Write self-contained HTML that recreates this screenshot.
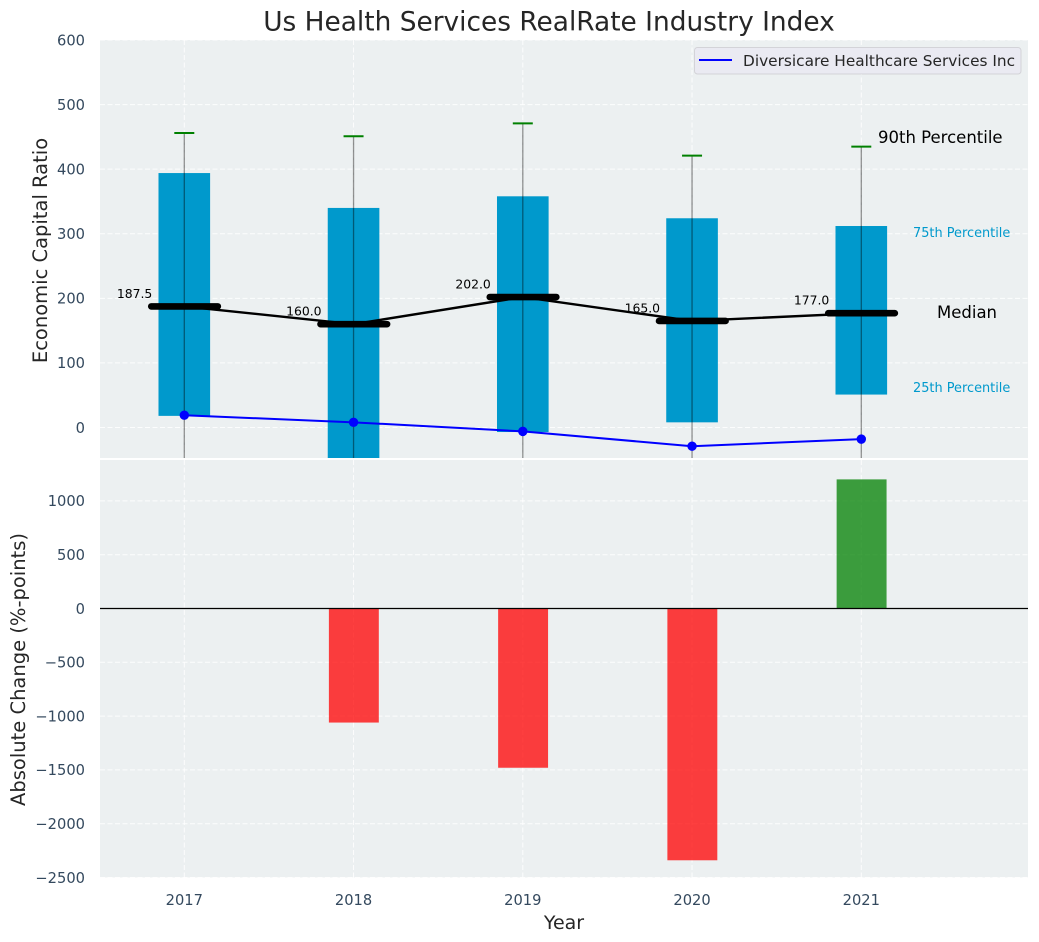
<!DOCTYPE html>
<html lang="en">
<head>
<meta charset="utf-8">
<title>Us Health Services RealRate Industry Index</title>
<style>
html,body{margin:0;padding:0;background:#fff;}
svg{display:block;}
text{font-family:"DejaVu Sans","Liberation Sans",sans-serif;}
</style>
</head>
<body>
<svg id="chart" xmlns="http://www.w3.org/2000/svg" width="1039" height="942" viewBox="0 0 1039 942">
<defs>
<clipPath id="clip-top"><rect x="100" y="40" width="928" height="418"/></clipPath>
<clipPath id="clip-bottom"><rect x="100" y="460" width="928" height="417.5"/></clipPath>
</defs>
<rect x="100" y="40" width="928" height="418" fill="#ecf0f1"/>
<rect x="100" y="460" width="928" height="417.5" fill="#ecf0f1"/>
<g id="top-grid"></g>
<g id="bottom-grid"></g>
<g id="top-marks" clip-path="url(#clip-top)"></g>
<g id="bottom-marks" clip-path="url(#clip-bottom)"></g>
<g id="labels"></g>
<text x="549" y="30.5" text-anchor="middle" font-size="26.4" fill="#262626">Us Health Services RealRate Industry Index</text>
<text x="564" y="929" text-anchor="middle" font-size="19" fill="#262626">Year</text>
<text transform="translate(47,250.5) rotate(-90)" text-anchor="middle" font-size="19.5" fill="#262626">Economic Capital Ratio</text>
<text transform="translate(25,669.5) rotate(-90)" text-anchor="middle" font-size="19.5" fill="#262626">Absolute Change (%-points)</text>
<text x="878" y="143" font-size="16.5" fill="#000">90th Percentile</text>
<text x="913" y="237" font-size="12.9" fill="#0099cc">75th Percentile</text>
<text x="937" y="318" font-size="16.5" fill="#000">Median</text>
<text x="913" y="392" font-size="12.9" fill="#0099cc">25th Percentile</text>
<g>
<rect x="694.5" y="47.5" width="326.5" height="26.5" rx="3" fill="#eaeaf2" stroke="#d3d3d8" stroke-width="1"/>
<line x1="699" y1="60" x2="732" y2="60" stroke="#0000ff" stroke-width="2"/>
<text x="743" y="66" font-size="15.35" fill="#262626">Diversicare Healthcare Services Inc</text>
</g>
</svg>
<script>
const years = [2017, 2018, 2019, 2020, 2021];
const p90 = [456, 451, 471, 421, 435];
const p75 = [394, 340, 358, 324, 312];
const median = [187.5, 160, 202, 165, 177];
const p25 = [18, -60, -7, 8, 51];
const p10 = [-120, -180, -130, -140, -100];
const company = [19, 8, -6, -29, -18];
const change = [0, -1060, -1480, -2340, 1200];
const topTicks = [600, 500, 400, 300, 200, 100, 0];
const bottomTicks = [1000, 500, 0, -500, -1000, -1500, -2000, -2500];

const NS = 'http://www.w3.org/2000/svg';
const xScale = v => 184.3 + (v - 2017) * 169.25;
const topY = v => 427.5 - v * 0.6458;
const bottomY = v => 608.5 - v * 0.1076;
const BOX_W = 0.305;
const CHANGE_W = 0.295;

function make(parent, tag, attrs, txt) {
  const el = document.createElementNS(NS, tag);
  for (const k in attrs) el.setAttribute(k, attrs[k]);
  if (txt !== undefined) el.textContent = txt;
  parent.appendChild(el);
  return el;
}
const topGrid = document.getElementById('top-grid');
const bottomGrid = document.getElementById('bottom-grid');
const topMarks = document.getElementById('top-marks');
const bottomMarks = document.getElementById('bottom-marks');
const labels = document.getElementById('labels');
const gridStyle = {stroke: '#ffffff', 'stroke-width': 1, 'stroke-dasharray': '5 2.5', 'stroke-opacity': 0.85};

topTicks.forEach(t => {
  const g = make(topGrid, 'line', Object.assign({x1: 100, x2: 1028, y1: topY(t), y2: topY(t)}, gridStyle));
  
  
  const l = make(labels, 'text', {x: 85, y: topY(t) + 5.3, 'text-anchor': 'end', 'font-size': 14.67, fill: '#34495e'}, String(t));
  
  
});
bottomTicks.forEach(t => {
  const g = make(bottomGrid, 'line', Object.assign({x1: 100, x2: 1028, y1: bottomY(t), y2: bottomY(t)}, gridStyle));
  
  
  const l = make(labels, 'text', {x: 85, y: bottomY(t) + 5.3, 'text-anchor': 'end', 'font-size': 14.67, fill: '#34495e'}, String(t).replace('-', '\u2212'));
  
  
});
years.forEach(y => {
  const g1 = make(topGrid, 'line', Object.assign({x1: xScale(y), x2: xScale(y), y1: 40, y2: 458}, gridStyle));
  
  
  const g2 = make(bottomGrid, 'line', Object.assign({x1: xScale(y), x2: xScale(y), y1: 460, y2: 877.5}, gridStyle));
  
  
  const l = make(labels, 'text', {x: xScale(y), y: 905, 'text-anchor': 'middle', 'font-size': 14.67, fill: '#34495e'}, String(y));
  
  
});

years.forEach((y, i) => {
  const x = xScale(y);
  const half = BOX_W * 169.25 / 2;
  const box = make(topMarks, 'rect', {x: x - half, y: topY(p75[i]), width: half * 2, height: topY(p25[i]) - topY(p75[i]), fill: '#0099cc'});
  
  
});
years.forEach((y, i) => {
  const x = xScale(y);
  const w = make(topMarks, 'line', {x1: x, x2: x, y1: topY(p90[i]), y2: topY(p10[i]), stroke: '#000', 'stroke-opacity': 0.42, 'stroke-width': 1.3});
  
  
  const c = make(topMarks, 'line', {x1: x - 10, x2: x + 10, y1: topY(p90[i]), y2: topY(p90[i]), stroke: '#008000', 'stroke-width': 2});
  
  
});
const medianLine = make(topMarks, 'polyline', {points: years.map((y, i) => xScale(y) + ',' + topY(median[i])).join(' '), fill: 'none', stroke: '#000', 'stroke-width': 2.4});


years.forEach((y, i) => {
  const x = xScale(y);
  const m = make(topMarks, 'line', {x1: x - 33, x2: x + 33.5, y1: topY(median[i]), y2: topY(median[i]), stroke: '#000', 'stroke-width': 6.7, 'stroke-linecap': 'round'});
  
  
  const t = make(topMarks, 'text', {x: x - 32, y: topY(median[i]) - 8.5, 'text-anchor': 'end', 'font-size': 12.4, fill: '#000'}, median[i].toFixed(1));
  
  
});
const companyLine = make(topMarks, 'polyline', {points: years.map((y, i) => xScale(y) + ',' + topY(company[i])).join(' '), fill: 'none', stroke: '#0000ff', 'stroke-width': 2});


years.forEach((y, i) => {
  const p = make(topMarks, 'circle', {cx: xScale(y), cy: topY(company[i]), r: 4.7, fill: '#0000ff'});
  
  
});

years.forEach((y, i) => {
  if (change[i] === 0) return;
  const x = xScale(y);
  const half = CHANGE_W * 169.25 / 2;
  const top = Math.min(bottomY(change[i]), bottomY(0));
  const h = Math.abs(bottomY(change[i]) - bottomY(0));
  const b = make(bottomMarks, 'rect', {x: x - half + 0.3, y: top, width: half * 2, height: h, fill: change[i] < 0 ? '#ff0000' : '#008000', 'fill-opacity': 0.75});
  
  
});
const zero = make(bottomMarks, 'line', {x1: 100, x2: 1028, y1: bottomY(0), y2: bottomY(0), stroke: '#000', 'stroke-width': 1.2});


</script>
</body>
</html>
